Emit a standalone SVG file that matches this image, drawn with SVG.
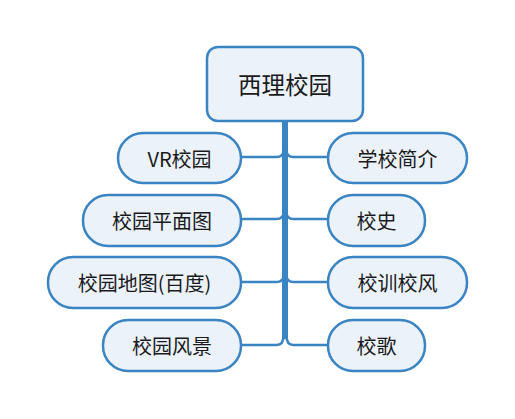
<svg xmlns="http://www.w3.org/2000/svg" width="515" height="419" viewBox="0 0 515 419">
<style>
.n{fill:#ebf2fa;stroke:#3a84c3;stroke-width:2.5}
.t{font-family:"Noto Sans CJK SC","Noto Sans",sans-serif;font-size:20px;fill:#1a1a1a;text-anchor:middle;dominant-baseline:central}
.c{fill:none;stroke:#3a84c3;stroke-width:2.5}
</style>
<rect width="515" height="419" fill="#ffffff"/>
<g id="connectors">
<rect x="282" y="121" width="6" height="218" fill="#3a84c3"/>
<path class="c" d="M283.5,150 Q283.5,157 276.5,157 H241"/>
<path class="c" d="M286.5,150 Q286.5,157 293.5,157 H328"/>
<path class="c" d="M283.5,212 Q283.5,219 276.5,219 H241"/>
<path class="c" d="M286.5,212 Q286.5,219 293.5,219 H328"/>
<path class="c" d="M283.5,275 Q283.5,282 276.5,282 H241"/>
<path class="c" d="M286.5,275 Q286.5,282 293.5,282 H328"/>
<path class="c" d="M283.5,336 Q283.5,345 276.5,345 H241"/>
<path class="c" d="M286.5,336 Q286.5,345 293.5,345 H328"/>
</g>
<g id="root">
<rect class="n" x="207" y="47" width="156" height="74" rx="11"/>
<text class="t" x="285" y="84" style="font-size:23.5px">西理校园</text>
</g>
<g id="n-vr">
<rect class="n" x="118" y="133" width="123" height="50" rx="25"/>
<text class="t" x="179.5" y="158">VR校园</text>
</g>
<g id="n-pm">
<rect class="n" x="83" y="195" width="158" height="51" rx="25"/>
<text class="t" x="162" y="220">校园平面图</text>
</g>
<g id="n-dt">
<rect class="n" x="48" y="257" width="193" height="51" rx="25"/>
<text class="t" x="144.5" y="282">校园地图(百度)</text>
</g>
<g id="n-fj">
<rect class="n" x="103" y="320" width="138" height="51" rx="25"/>
<text class="t" x="172" y="345">校园风景</text>
</g>
<g id="n-jj">
<rect class="n" x="328" y="133" width="139" height="50" rx="25"/>
<text class="t" x="397.5" y="158">学校简介</text>
</g>
<g id="n-xs">
<rect class="n" x="328" y="195" width="97" height="51" rx="25"/>
<text class="t" x="376.5" y="220">校史</text>
</g>
<g id="n-xx">
<rect class="n" x="328" y="257" width="139" height="51" rx="25"/>
<text class="t" x="397.5" y="282">校训校风</text>
</g>
<g id="n-xg">
<rect class="n" x="328" y="320" width="97" height="51" rx="25"/>
<text class="t" x="376.5" y="345">校歌</text>
</g>
</svg>
